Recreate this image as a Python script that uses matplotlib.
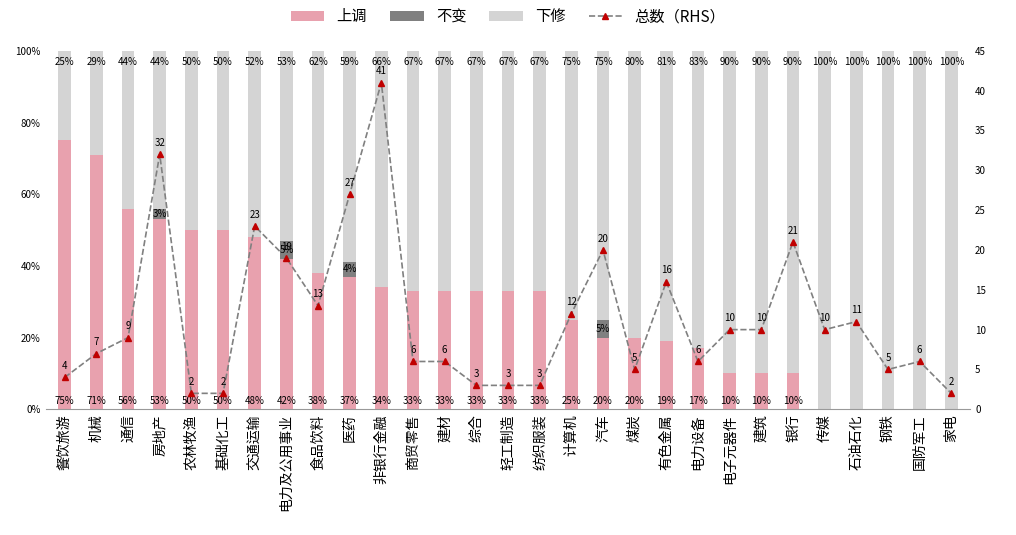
import numpy as np
import matplotlib.pyplot as plt
from matplotlib import font_manager
from matplotlib.ticker import PercentFormatter

# pick whichever CJK family is actually registered
names = {f.name for f in font_manager.fontManager.ttflist}
cjk = [n for n in ['Noto Sans CJK SC', 'Noto Sans CJK JP', 'Noto Sans CJK TC', 'Noto Sans CJK KR',
                   'Noto Sans SC', 'Noto Sans CJK'] if n in names]
if not cjk:
    cjk = sorted(n for n in names if 'CJK' in n)
plt.rcParams['font.family'] = cjk + ['DejaVu Sans']

categories = ['餐饮旅游', '机械', '通信', '房地产', '农林牧渔', '基础化工', '交通运输', '电力及公用事业',
              '食品饮料', '医药', '非银行金融', '商贸零售', '建材', '综合', '轻工制造', '纺织服装',
              '计算机', '汽车', '煤炭', '有色金属', '电力设备', '电子元器件', '建筑', '银行', '传媒',
              '石油石化', '钢铁', '国防军工', '家电']
up = [75, 71, 56, 53, 50, 50, 48, 42, 38, 37, 34, 33, 33, 33, 33, 33, 25, 20, 20, 19, 17, 10, 10, 10, 0, 0, 0, 0, 0]
same = [0, 0, 0, 3, 0, 0, 0, 5, 0, 4, 0, 0, 0, 0, 0, 0, 0, 5, 0, 0, 0, 0, 0, 0, 0, 0, 0, 0, 0]
down = [25, 29, 44, 44, 50, 50, 52, 53, 62, 59, 66, 67, 67, 67, 67, 67, 75, 75, 80, 81, 83, 90, 90, 90, 100, 100, 100, 100, 100]
total = [4, 7, 9, 32, 2, 2, 23, 19, 13, 27, 41, 6, 6, 3, 3, 3, 12, 20, 5, 16, 6, 10, 10, 21, 10, 11, 5, 6, 2]

x = np.arange(len(categories))
up_a, same_a, down_a = np.array(up), np.array(same), np.array(down)

fig, ax = plt.subplots(figsize=(10.16, 5.35), dpi=100)
fig.subplots_adjust(left=0.045, right=0.955, top=0.905, bottom=0.235)
w = 0.4
ax.bar(x, up_a, w, color='#E8A1AE', label='上调')
ax.bar(x, same_a, w, bottom=up_a, color='#808080', label='不变')
ax.bar(x, down_a, w, bottom=up_a + same_a, color='#D4D4D4', label='下修')

fs = 7
for i in range(len(x)):
    if up[i] > 0:
        ax.text(x[i], 1, f'{up[i]}%', ha='center', va='bottom', fontsize=fs)
    if same[i] > 0:
        ax.text(x[i], up[i] + same[i] / 2, f'{same[i]}%', ha='center', va='center', fontsize=fs)
    ax.text(x[i], 97, f'{down[i]}%', ha='center', va='center', fontsize=fs)

ax.set_ylim(0, 100)
ax.set_xlim(-0.6, len(x) - 0.4)
ax.yaxis.set_major_formatter(PercentFormatter(decimals=0))
ax.set_yticks(range(0, 101, 20))
ax.set_xticks(x)
ax.set_xticklabels(categories, rotation=90, fontsize=10)
ax.tick_params(axis='y', labelsize=7, length=0)
ax.tick_params(axis='x', length=0)
for s in ['top', 'right', 'left']:
    ax.spines[s].set_visible(False)
ax.spines['bottom'].set_color('#999999')

ax2 = ax.twinx()
ax2.plot(x, total, '--', color='#808080', lw=1.2, marker='^', markersize=5,
         markerfacecolor='#C00000', markeredgecolor='#C00000', label='总数（RHS）')
for i in range(len(x)):
    ax2.text(x[i], total[i] + 0.8, str(total[i]), ha='center', va='bottom', fontsize=fs)
ax2.set_ylim(0, 45)
ax2.set_yticks(range(0, 46, 5))
ax2.tick_params(axis='y', labelsize=7, length=0)
for s in ['top', 'right', 'left', 'bottom']:
    ax2.spines[s].set_visible(False)

h1, l1 = ax.get_legend_handles_labels()
h2, l2 = ax2.get_legend_handles_labels()
fig.legend(h1 + h2, l1 + l2, loc='upper center', ncol=4, frameon=False, fontsize=11,
           bbox_to_anchor=(0.5, 1.01), handlelength=2.2, columnspacing=1.5)

fig.savefig('out.png')
